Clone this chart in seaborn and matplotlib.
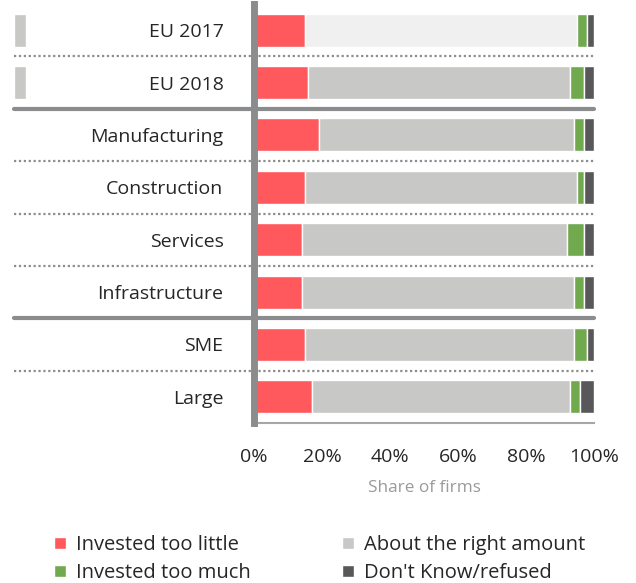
import matplotlib
matplotlib.use("Agg")
import matplotlib.pyplot as plt
import seaborn as sns
import pandas as pd
import numpy as np
from matplotlib.patches import Patch

sns.set_style("white")
plt.rcParams["font.family"] = ["Open Sans", "DejaVu Sans"]

CATEGORIES = ["EU 2017", "EU 2018", "Manufacturing", "Construction",
              "Services", "Infrastructure", "SME", "Large"]
TOO_LITTLE = [15, 16, 19, 15, 14, 14, 15, 17]
RIGHT_AMOUNT = [80, 77, 75, 80, 78, 80, 79, 76]
TOO_MUCH = [3, 4, 3, 2, 5, 3, 4, 3]
DONT_KNOW = [2, 3, 3, 3, 3, 3, 2, 4]
SERIES = ["Invested too little", "About the right amount",
          "Invested too much", "Don't Know/refused"]
COLORS = {"Invested too little": "#ff585d",
          "About the right amount": "#c8c8c6",
          "Invested too much": "#71a94f",
          "Don't Know/refused": "#58585a"}
LIGHT_GREY = "#f0f0f0"
AXIS_GREY = "#8a8c8e"

df = pd.DataFrame({"category": CATEGORIES,
                   SERIES[0]: TOO_LITTLE, SERIES[1]: RIGHT_AMOUNT,
                   SERIES[2]: TOO_MUCH, SERIES[3]: DONT_KNOW})

fig = plt.figure(figsize=(6.36, 5.83), dpi=100)
ax = fig.add_axes([254 / 636, 1 - 423 / 583, 340 / 636, 419 / 583])

y = np.arange(len(df))
left = np.zeros(len(df))
for s in SERIES:
    colors = [COLORS[s]] * len(df)
    if s == "About the right amount":
        colors[0] = LIGHT_GREY  # earlier year shown faded
    ax.barh(y, df[s], left=left, height=0.63, color=colors,
            edgecolor="white", linewidth=1, zorder=2)
    left += df[s].values

ax.set_ylim(len(df) - 0.5, -0.5)
ax.set_xlim(0, 100)
ax.set_yticks(y)
ax.set_yticklabels(df["category"], fontsize=14, color="#262626")
ax.tick_params(axis="y", length=0, pad=22)
ax.set_xticks(range(0, 101, 20))
ax.set_xticklabels([f"{v}%" for v in range(0, 101, 20)], fontsize=14, color="#262626")
ax.tick_params(axis="x", length=6, width=1, color="#a6a6a6", pad=12)
ax.set_xlabel("Share of firms", fontsize=12.3, color="#9a9a9a", labelpad=10)

# separators between rows
for i in range(len(df) - 1):
    yy = i + 0.5
    if CATEGORIES[i] in ("EU 2018", "Infrastructure"):
        ax.axhline(yy, xmin=-0.706, xmax=1.0, color=AXIS_GREY, lw=3,
                   clip_on=False, zorder=3)
    else:
        ax.axhline(yy, xmin=-0.706, xmax=1.0, color=AXIS_GREY, lw=1.6,
                   ls=(0, (1, 1.2)), clip_on=False, zorder=1)

# small grey markers next to the EU rows
for i in (0, 1):
    ax.barh(i, 3.5, left=-70.6, height=0.63, color="#c8c8c6",
            clip_on=False, zorder=2)

for side in ("top", "right"):
    ax.spines[side].set_visible(False)
ax.spines["left"].set_color(AXIS_GREY)
ax.spines["left"].set_linewidth(5)
ax.spines["left"].set_zorder(4)
ax.spines["bottom"].set_color("#a6a6a6")
ax.spines["bottom"].set_linewidth(1.5)

handles = [Patch(facecolor=COLORS[s], label=s) for s in
           ["Invested too little", "Invested too much",
            "About the right amount", "Don't Know/refused"]]
fig.legend(handles=handles, ncol=2, loc="upper left",
           bbox_to_anchor=(36 / 636, 1 - 517 / 583), frameon=False,
           fontsize=14.5, handlelength=0.6, handleheight=0.6,
           handletextpad=0.5, columnspacing=4.5, labelspacing=0.4,
           labelcolor="#262626")

plt.savefig("out.png", dpi=100, facecolor="white")
plt.close()
